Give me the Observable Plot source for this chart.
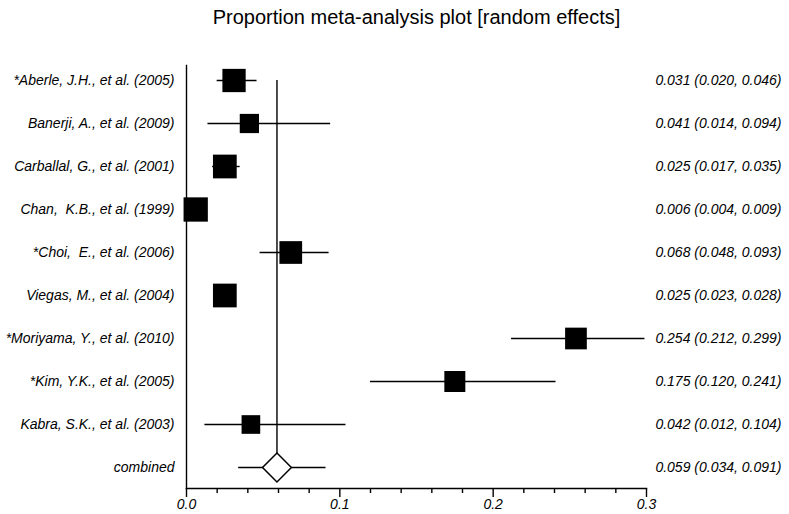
<!DOCTYPE html>
<html>
<head>
<meta charset="utf-8">
<script src="https://cdn.jsdelivr.net/npm/d3@7"></script>
<script src="https://cdn.jsdelivr.net/npm/@observablehq/plot@0.6"></script>
<style>
  body { margin: 0; background: #fff; }
  svg text { white-space: pre; }
</style>
</head>
<body>
<div id="chart"></div>
<script>
const title = "Proportion meta-analysis plot [random effects]";
const studies = [
  "*Aberle, J.H., et al. (2005)",
  "Banerji, A., et al. (2009)",
  "Carballal, G., et al. (2001)",
  "Chan,  K.B., et al. (1999)",
  "*Choi,  E., et al. (2006)",
  "Viegas, M., et al. (2004)",
  "*Moriyama, Y., et al. (2010)",
  "*Kim, Y.K., et al. (2005)",
  "Kabra, S.K., et al. (2003)"
];
const estimates = [0.031, 0.041, 0.025, 0.006, 0.068, 0.025, 0.254, 0.175, 0.042];
const lowerCI   = [0.020, 0.014, 0.017, 0.004, 0.048, 0.023, 0.212, 0.120, 0.012];
const upperCI   = [0.046, 0.094, 0.035, 0.009, 0.093, 0.028, 0.299, 0.241, 0.104];
const weights   = [12.3, 8.4, 12.8, 13.4, 11.7, 12.8, 10.7, 10.0, 7.9];
const combinedLabel = "combined";
const combinedEst = 0.059, combinedLo = 0.034, combinedHi = 0.091;
const xTicksMajor = [0, 0.1, 0.2, 0.3];
const xTicksMinor = [0.02, 0.04, 0.06, 0.08, 0.12, 0.14, 0.16, 0.18, 0.22, 0.24, 0.26, 0.28];

const f3 = d3.format(".3f");
const rows = studies.map((s, i) => ({label: s, est: estimates[i], lo: lowerCI[i], hi: upperCI[i], w: weights[i]}));
const combined = [{label: combinedLabel, est: combinedEst, lo: combinedLo, hi: combinedHi}];
const allRows = rows.concat(combined);
allRows.forEach(d => d.text = `${f3(d.est)} (${f3(d.lo)}, ${f3(d.hi)})`);

const font = "Liberation Sans, Arial, Helvetica, sans-serif";

const chart = Plot.plot({
  width: 789,
  height: 514,
  marginLeft: 186,
  marginRight: 143,
  marginTop: 65,
  marginBottom: 26,
  style: {fontFamily: font, fontSize: "14px", color: "#000", background: "#fff"},
  x: {domain: [0, 0.3], label: null},
  y: {type: "point", domain: studies.concat([combinedLabel]), range: [80, 467], padding: 0, label: null},
  r: {type: "sqrt", domain: [0, 13.4], range: [0, 13.71]},
  marks: [
    Plot.frame({anchor: "left", stroke: "#000", strokeWidth: 1.4}),
    Plot.frame({anchor: "bottom", stroke: "#000", strokeWidth: 1.4}),
    Plot.axisX(xTicksMinor, {tickSize: 5, text: null, label: null, strokeWidth: 1.4, stroke: "#000"}),
    Plot.axisX(xTicksMajor, {tickSize: 9, tickPadding: 2, label: null, tickFormat: d3.format(".1f"), fontStyle: "italic", fontSize: 14, strokeWidth: 1.4, stroke: "#000", fill: "#000"}),
    Plot.axisY({tickSize: 0, tickPadding: 12, label: null, fontStyle: "italic", fontSize: 14, fill: "#000"}),
    Plot.ruleX(combined, {x: "est", y1: () => studies[0], y2: "label", stroke: "#000", strokeWidth: 1.4}),
    Plot.ruleY(allRows, {y: "label", x1: "lo", x2: "hi", stroke: "#000", strokeWidth: 1.4}),
    Plot.dot(rows, {x: "est", y: "label", r: "w", symbol: "square", fill: "#000", stroke: null}),
    Plot.dot(combined, {x: "est", y: "label", r: 13, symbol: "diamond2", fill: "#fff", stroke: "#000", strokeWidth: 1.5}),
    Plot.text(allRows, {y: "label", text: "text", frameAnchor: "right", dx: 135, textAnchor: "end", fontStyle: "italic", fontSize: 14, fill: "#000"}),
    Plot.text([title], {frameAnchor: "top", lineAnchor: "middle", dy: -48, fontSize: 20, fill: "#000"})
  ]
});
document.getElementById("chart").appendChild(chart);
</script>
</body>
</html>
